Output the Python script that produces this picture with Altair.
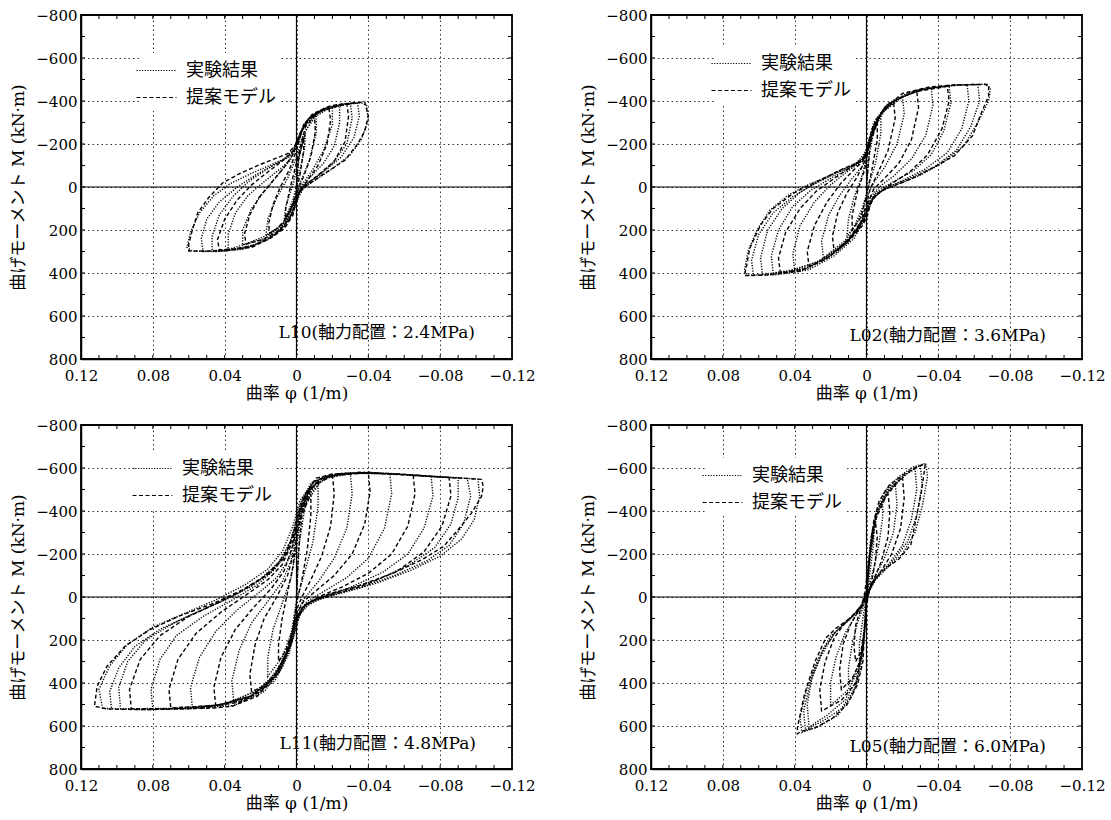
import altair as alt
import pandas as pd

# ---------------- data (curvature phi [1/m], moment M [kN*m]) ----------------
PHI_TICKS = [0.12, 0.08, 0.04, 0, -0.04, -0.08, -0.12]
M_TICKS = [-800, -600, -400, -200, 0, 200, 400, 600, 800]
PHI_MINOR = [0.11, 0.10, 0.09, 0.08, 0.07, 0.06, 0.05, 0.04, 0.03, 0.02, 0.01, 0.0,
             -0.01, -0.02, -0.03, -0.04, -0.05, -0.06, -0.07, -0.08, -0.09, -0.10, -0.11]
M_MINOR = [-700, -600, -500, -400, -300, -200, -100, 0, 100, 200, 300, 400, 500, 600, 700]
SERIES = ["実験結果", "提案モデル"]
PANEL_LABELS = ["L10(軸力配置：2.4MPa)", "L02(軸力配置：3.6MPa)",
                "L11(軸力配置：4.8MPa)", "L05(軸力配置：6.0MPa)"]

L10_EXP = [(0, 0), (-0.0015, -150), (-0.005, -250), (-0.0045, -180), (-0.001, -40), (0.002, 60), (0.007, 160),
           (0.006, 90), (0.002, -10), (-0.001, -120), (-0.005, -260), (-0.011, -335), (-0.011, -250), (-0.007, -120),
           (-0.002, -20), (0.001, 60), (0.008, 175), (0.017, 225), (0.016, 150), (0.011, 50), (0.005, -40), (0.0, -140),
           (-0.004, -250), (-0.010, -325), (-0.020, -375), (-0.020, -290), (-0.015, -170), (-0.009, -80), (-0.003, -10),
           (0.001, 70), (0.006, 160), (0.015, 220), (0.030, 270), (0.030, 200), (0.025, 100), (0.018, 20), (0.010, -60),
           (0.004, -120), (0.0, -190), (-0.004, -280), (-0.012, -345), (-0.022, -378), (-0.030, -390), (-0.031, -320),
           (-0.028, -200), (-0.020, -110), (-0.010, -40), (-0.003, 0), (0.0, 40), (0.003, 130), (0.010, 210),
           (0.022, 265), (0.035, 290), (0.047, 296), (0.047, 230), (0.043, 130), (0.035, 40), (0.026, -30),
           (0.016, -85), (0.008, -125), (0.002, -170), (-0.002, -250), (-0.007, -320), (-0.016, -362), (-0.028, -385),
           (-0.036, -392), (-0.039, -380), (-0.040, -310), (-0.036, -220), (-0.030, -150), (-0.020, -85), (-0.010, -30),
           (-0.004, 5), (-0.001, 50), (0.002, 120), (0.007, 185), (0.016, 245), (0.030, 290), (0.045, 300),
           (0.058, 298), (0.061, 280), (0.059, 210), (0.054, 120), (0.046, 40), (0.037, -15), (0.026, -60),
           (0.015, -100), (0.007, -130), (0.002, -160), (-0.003, -270), (-0.010, -340), (-0.025, -385),
           (-0.034, -392), (-0.035, -330), (-0.032, -230), (-0.025, -140), (-0.015, -70), (-0.006, -15),
           (-0.001, 30), (0.004, 140), (0.012, 220), (0.026, 280), (0.040, 298), (0.052, 300), (0.053, 240),
           (0.050, 150), (0.043, 70), (0.033, 0), (0.022, -60), (0.012, -105), (0.004, -140), (0.0, -175),
           (-0.003, -260), (-0.008, -330), (-0.015, -365), (-0.024, -382), (-0.024, -300), (-0.021, -190),
           (-0.015, -110), (-0.007, -40), (-0.002, 10), (0.001, 70), (0.006, 160), (0.016, 235), (0.038, 290),
           (0.038, 220), (0.034, 120), (0.027, 40), (0.018, -25), (0.009, -85), (0.003, -130)]
L10_MODEL = [(0, 0), (-0.001, -130), (-0.004, -230), (-0.004, -170), (-0.002, -60), (0.0, 20), (0.003, 100),
             (0.006, 150), (0.006, 100), (0.004, 20), (0.001, -80), (-0.002, -180), (-0.005, -280), (-0.010, -330),
             (-0.0105, -260), (-0.008, -140), (-0.004, -50), (-0.001, 10), (0.002, 80), (0.006, 150), (0.011, 195),
             (0.015, 215), (0.0155, 170), (0.013, 80), (0.009, 0), (0.004, -80), (0.0, -170), (-0.003, -260),
             (-0.007, -320), (-0.012, -350), (-0.018, -370), (-0.019, -310), (-0.017, -200), (-0.012, -100),
             (-0.006, -30), (-0.002, 20), (0.0, 70), (0.004, 150), (0.010, 205), (0.019, 245), (0.028, 265),
             (0.029, 220), (0.026, 130), (0.021, 50), (0.014, -20), (0.007, -90), (0.002, -150), (-0.001, -220),
             (-0.004, -290), (-0.009, -340), (-0.018, -375), (-0.023, -384), (-0.028, -388), (-0.029, -330),
             (-0.027, -210), (-0.021, -120), (-0.012, -55), (-0.005, -10), (-0.001, 30), (0.001, 90), (0.005, 170),
             (0.013, 230), (0.025, 275), (0.035, 288), (0.043, 292), (0.044, 245), (0.040, 150), (0.033, 60),
             (0.025, -10), (0.016, -70), (0.008, -120), (0.002, -165), (-0.001, -220), (-0.005, -300), (-0.012, -350),
             (-0.022, -380), (-0.030, -390), (-0.038, -395), (-0.040, -330), (-0.038, -260), (-0.034, -200),
             (-0.027, -125), (-0.016, -65), (-0.008, -20), (-0.003, 10), (0.0, 56), (0.002, 131), (0.0065, 191),
             (0.014, 236), (0.025, 281), (0.040, 296), (0.053, 298), (0.060, 298), (0.060, 266), (0.058, 200),
             (0.055, 120), (0.049, 50), (0.041, -20), (0.031, -65), (0.021, -102), (0.012, -132), (0.005, -155),
             (0.001, -190), (-0.002, -250), (-0.006, -310), (-0.014, -355), (-0.025, -380), (-0.035, -392)]

L02_EXP = [(0, 0), (-0.001, -120), (-0.004, -260), (-0.008, -330), (-0.008, -250), (-0.005, -110), (-0.001, 0),
           (0.002, 90), (0.006, 170), (0.011, 230), (0.010, 150), (0.007, 50), (0.003, -40), (0.0, -130),
           (-0.004, -280), (-0.010, -370), (-0.020, -420), (-0.021, -340), (-0.017, -200), (-0.010, -90),
           (-0.004, -20), (0.0, 50), (0.004, 150), (0.012, 250), (0.024, 330), (0.025, 250), (0.021, 130),
           (0.015, 40), (0.008, -40), (0.002, -100), (-0.001, -180), (-0.006, -320), (-0.015, -405), (-0.030, -450),
           (-0.036, -462), (-0.037, -380), (-0.033, -240), (-0.025, -130), (-0.015, -50), (-0.007, 0), (-0.002, 50),
           (0.001, 140), (0.007, 220), (0.017, 300), (0.030, 365), (0.040, 390), (0.041, 310), (0.037, 180),
           (0.029, 70), (0.020, -10), (0.011, -70), (0.004, -110), (0.0, -150), (-0.003, -260), (-0.010, -360),
           (-0.022, -435), (-0.040, -468), (-0.056, -475), (-0.057, -400), (-0.053, -270), (-0.045, -160),
           (-0.033, -85), (-0.020, -30), (-0.010, 10), (-0.004, 50), (-0.001, 110), (0.004, 190), (0.014, 280),
           (0.028, 350), (0.045, 395), (0.058, 405), (0.059, 330), (0.055, 200), (0.047, 100), (0.037, 25),
           (0.026, -30), (0.015, -75), (0.006, -110), (0.001, -150), (-0.003, -260), (-0.012, -380), (-0.028, -450),
           (-0.048, -474), (-0.066, -478), (-0.069, -460), (-0.068, -400), (-0.062, -300), (-0.054, -190),
           (-0.042, -110), (-0.030, -55), (-0.018, -15), (-0.008, 20), (-0.002, 70), (0.001, 150), (0.007, 240),
           (0.018, 320), (0.032, 385), (0.050, 408), (0.066, 410), (0.068, 390), (0.066, 300), (0.061, 200),
           (0.054, 110), (0.044, 40), (0.034, -5), (0.024, -40), (0.014, -80), (0.006, -105), (0.0, -170),
           (-0.004, -300), (-0.012, -390), (-0.030, -455), (-0.050, -474), (-0.062, -476), (-0.063, -400),
           (-0.058, -280), (-0.050, -170), (-0.038, -95), (-0.024, -40), (-0.012, 0), (-0.004, 40), (0.0, 110),
           (0.005, 200), (0.016, 300), (0.033, 380), (0.052, 405), (0.063, 410), (0.064, 340), (0.060, 220),
           (0.052, 120), (0.041, 45), (0.030, -10), (0.019, -55), (0.009, -95), (0.002, -130), (-0.002, -230),
           (-0.008, -340), (-0.020, -420), (-0.032, -455), (-0.046, -470), (-0.047, -390), (-0.043, -260),
           (-0.036, -150), (-0.026, -75), (-0.015, -25), (-0.006, 20), (-0.001, 80), (0.003, 170), (0.012, 260),
           (0.025, 340), (0.040, 385), (0.052, 400), (0.053, 320), (0.049, 200), (0.041, 90), (0.031, 15),
           (0.020, -40), (0.010, -85), (0.003, -120)]
L02_MODEL = [(0, 0), (-0.002, -200), (-0.006, -300), (-0.006, -220), (-0.003, -80), (0.0, 40), (0.003, 140),
             (0.008, 200), (0.008, 130), (0.005, 20), (0.001, -80), (-0.002, -220), (-0.008, -340), (-0.015, -400),
             (-0.016, -320), (-0.012, -170), (-0.006, -60), (-0.002, 10), (0.0, 80), (0.004, 180), (0.011, 260),
             (0.018, 300), (0.019, 230), (0.016, 120), (0.011, 30), (0.005, -50), (0.001, -120), (-0.002, -230),
             (-0.008, -340), (-0.017, -410), (-0.028, -445), (-0.029, -370), (-0.025, -220), (-0.018, -110),
             (-0.010, -40), (-0.004, 10), (-0.001, 70), (0.002, 150), (0.010, 240), (0.020, 320), (0.032, 370),
             (0.033, 300), (0.029, 180), (0.022, 70), (0.014, -20), (0.007, -80), (0.002, -120), (-0.001, -200),
             (-0.005, -310), (-0.012, -385), (-0.025, -440), (-0.045, -468), (-0.046, -400), (-0.042, -270),
             (-0.034, -150), (-0.024, -70), (-0.014, -15), (-0.006, 30), (-0.002, 80), (0.001, 150), (0.008, 230),
             (0.020, 320), (0.034, 380), (0.048, 400), (0.049, 330), (0.045, 210), (0.037, 100), (0.028, 20),
             (0.018, -40), (0.009, -90), (0.003, -120), (0.0, -160), (-0.003, -270), (-0.010, -365), (-0.020, -435),
             (-0.035, -465), (-0.050, -476), (-0.068, -477), (-0.068, -423), (-0.064, -346), (-0.059, -238),
             (-0.049, -146), (-0.036, -85), (-0.025, -38), (-0.016, -8), (-0.009, 15), (-0.003, 54), (-0.0006, 131),
             (0.0022, 180), (0.0096, 250), (0.0225, 335), (0.037, 392), (0.056, 410), (0.068, 412), (0.067, 377),
             (0.065, 285), (0.059, 177), (0.052, 100), (0.041, 31), (0.032, -8), (0.0225, -46), (0.013, -85),
             (0.006, -108), (0.0004, -140), (-0.002, -240)]

L11_EXP = [(0, 0), (-0.0015, -250), (-0.005, -430), (-0.012, -520), (-0.012, -420), (-0.009, -250), (-0.004, -100),
           (0.0, 20), (0.003, 170), (0.008, 280), (0.016, 370), (0.016, 280), (0.013, 150), (0.008, 30), (0.003, -90),
           (0.0, -230), (-0.003, -400), (-0.010, -520), (-0.020, -565), (-0.030, -575), (-0.031, -480),
           (-0.028, -320), (-0.021, -180), (-0.012, -70), (-0.004, 10), (0.0, 80), (0.004, 230), (0.012, 360),
           (0.023, 440), (0.035, 480), (0.036, 390), (0.032, 250), (0.025, 120), (0.016, 20), (0.008, -70),
           (0.003, -170), (-0.001, -330), (-0.006, -470), (-0.016, -555), (-0.035, -578), (-0.052, -574),
           (-0.053, -480), (-0.049, -320), (-0.040, -180), (-0.028, -90), (-0.015, -25), (-0.006, 20), (-0.001, 80),
           (0.003, 220), (0.011, 360), (0.025, 460), (0.042, 500), (0.058, 515), (0.059, 420), (0.054, 280),
           (0.045, 160), (0.033, 60), (0.021, -20), (0.011, -90), (0.004, -180), (0.0, -320), (-0.004, -460),
           (-0.012, -545), (-0.030, -578), (-0.055, -572), (-0.075, -560), (-0.076, -470), (-0.071, -320),
           (-0.062, -200), (-0.048, -115), (-0.030, -45), (-0.016, -5), (-0.006, 30), (-0.001, 90), (0.003, 220),
           (0.010, 350), (0.022, 450), (0.042, 505), (0.065, 518), (0.080, 522), (0.081, 430), (0.076, 290),
           (0.067, 180), (0.052, 90), (0.036, 15), (0.022, -55), (0.012, -130), (0.005, -210), (0.001, -330),
           (-0.003, -450), (-0.010, -540), (-0.025, -575), (-0.050, -576), (-0.080, -558), (-0.095, -552),
           (-0.097, -470), (-0.093, -340), (-0.085, -240), (-0.073, -170), (-0.056, -105), (-0.036, -45),
           (-0.020, -10), (-0.008, 25), (-0.002, 80), (0.002, 200), (0.008, 330), (0.018, 440), (0.035, 505),
           (0.060, 520), (0.085, 524), (0.103, 520), (0.104, 440), (0.099, 330), (0.090, 230), (0.076, 150),
           (0.058, 80), (0.040, 15), (0.025, -50), (0.014, -120), (0.006, -200), (0.001, -320), (-0.002, -430),
           (-0.008, -530), (-0.020, -570), (-0.045, -578), (-0.070, -565), (-0.090, -555), (-0.101, -548),
           (-0.102, -470), (-0.099, -360), (-0.092, -270), (-0.080, -190), (-0.064, -125), (-0.045, -65),
           (-0.028, -25), (-0.013, 10), (-0.004, 50), (0.0, 120), (0.004, 260), (0.012, 390), (0.028, 480),
           (0.055, 518), (0.085, 524), (0.108, 518), (0.110, 430), (0.104, 320), (0.094, 220), (0.080, 140),
           (0.062, 75), (0.044, 10), (0.028, -60), (0.016, -130), (0.008, -210), (0.002, -330), (-0.002, -450),
           (-0.010, -540), (-0.030, -576), (-0.060, -570), (-0.090, -553), (-0.090, -460), (-0.086, -340),
           (-0.077, -230), (-0.063, -150), (-0.045, -80), (-0.026, -30), (-0.012, 5), (-0.003, 50), (0.001, 140),
           (0.007, 290), (0.018, 420), (0.040, 500), (0.070, 518), (0.098, 520), (0.099, 420), (0.094, 300),
           (0.084, 200), (0.068, 120), (0.050, 50), (0.033, -15), (0.020, -85), (0.010, -160), (0.004, -250)]
L11_MODEL = [(0, 0), (-0.001, -200), (-0.003, -380), (-0.008, -480), (-0.008, -380), (-0.006, -220), (-0.003, -80),
             (0.0, 30), (0.002, 150), (0.006, 250), (0.010, 300), (0.010, 220), (0.008, 100), (0.005, -20),
             (0.002, -140), (0.0, -280), (-0.003, -400), (-0.008, -500), (-0.014, -550), (-0.020, -570),
             (-0.021, -480), (-0.019, -330), (-0.014, -190), (-0.008, -80), (-0.003, 0), (0.0, 60), (0.003, 200),
             (0.009, 330), (0.017, 410), (0.025, 440), (0.026, 360), (0.023, 220), (0.018, 100), (0.011, 0),
             (0.005, -100), (0.001, -220), (-0.002, -370), (-0.006, -480), (-0.013, -550), (-0.025, -575),
             (-0.040, -578), (-0.041, -490), (-0.038, -340), (-0.031, -200), (-0.021, -100), (-0.011, -30),
             (-0.004, 20), (0.0, 80), (0.003, 210), (0.010, 340), (0.020, 440), (0.032, 490), (0.045, 505),
             (0.046, 420), (0.042, 280), (0.034, 150), (0.024, 50), (0.014, -40), (0.007, -120), (0.002, -240),
             (-0.002, -400), (-0.008, -510), (-0.020, -565), (-0.040, -578), (-0.065, -565), (-0.066, -480),
             (-0.062, -330), (-0.053, -200), (-0.040, -110), (-0.025, -45), (-0.012, 0), (-0.004, 40), (0.0, 100),
             (0.004, 230), (0.012, 370), (0.025, 460), (0.045, 505), (0.070, 516), (0.071, 430), (0.066, 290),
             (0.056, 170), (0.042, 70), (0.028, -10), (0.016, -80), (0.008, -150), (0.002, -260), (-0.001, -380),
             (-0.006, -490), (-0.015, -560), (-0.035, -580), (-0.060, -570), (-0.085, -555), (-0.086, -470),
             (-0.081, -330), (-0.071, -210), (-0.056, -120), (-0.038, -55), (-0.022, -15), (-0.010, 15),
             (-0.003, 50), (0.001, 130), (0.005, 250), (0.013, 380), (0.027, 470), (0.050, 515), (0.075, 520),
             (0.092, 520), (0.093, 430), (0.087, 290), (0.076, 180), (0.060, 90), (0.042, 20), (0.027, -45),
             (0.015, -110), (0.007, -180), (0.002, -280), (-0.001, -390), (-0.005, -480), (-0.011, -553),
             (-0.020, -572), (-0.040, -580), (-0.070, -563), (-0.103, -547), (-0.104, -515), (-0.103, -468),
             (-0.0975, -391), (-0.090, -313), (-0.082, -236), (-0.070, -174), (-0.054, -112), (-0.034, -50),
             (-0.020, -19), (-0.010, 12), (-0.004, 43), (0.001, 105), (0.004, 229), (0.010, 353), (0.0219, 462),
             (0.0358, 508), (0.0458, 516), (0.0657, 521), (0.0856, 524), (0.1055, 521), (0.1125, 508), (0.111, 415),
             (0.1055, 322), (0.0955, 229), (0.0816, 152), (0.0657, 90), (0.0458, 28), (0.0299, -34), (0.0179, -96),
             (0.010, -158), (0.004, -236), (0.001, -313)]

L05_EXP = [(0, 0), (-0.001, -120), (-0.002, -250), (-0.004, -330), (-0.004, -250), (-0.002, -120), (0.0, 0),
           (0.001, 120), (0.002, 230), (0.004, 300), (0.004, 220), (0.002, 100), (0.0, 0), (-0.001, -150),
           (-0.003, -300), (-0.006, -400), (-0.009, -450), (-0.009, -370), (-0.007, -250), (-0.004, -130),
           (-0.001, -40), (0.0, 30), (0.001, 150), (0.003, 280), (0.007, 370), (0.010, 410), (0.010, 330),
           (0.008, 220), (0.005, 120), (0.002, 50), (0.0, -20), (-0.002, -200), (-0.005, -370), (-0.010, -470),
           (-0.016, -530), (-0.017, -430), (-0.015, -300), (-0.010, -180), (-0.005, -100), (-0.002, -40), (0.0, 20),
           (0.001, 150), (0.004, 330), (0.010, 430), (0.018, 490), (0.020, 500), (0.020, 400), (0.017, 280),
           (0.012, 170), (0.007, 100), (0.003, 50), (0.0, 0), (-0.002, -180), (-0.006, -400), (-0.012, -500),
           (-0.020, -560), (-0.027, -600), (-0.028, -500), (-0.025, -360), (-0.020, -240), (-0.013, -160),
           (-0.006, -100), (-0.002, -40), (0.0, 20), (0.002, 200), (0.005, 380), (0.012, 480), (0.022, 550),
           (0.032, 605), (0.033, 500), (0.030, 360), (0.024, 240), (0.016, 150), (0.008, 90), (0.002, 30),
           (0.0, -30), (-0.002, -230), (-0.005, -380), (-0.010, -490), (-0.018, -560), (-0.026, -605),
           (-0.033, -622), (-0.034, -560), (-0.031, -420), (-0.027, -300), (-0.020, -200), (-0.012, -140),
           (-0.005, -80), (0.0, 0), (0.001, 160), (0.003, 330), (0.008, 460), (0.016, 550), (0.026, 600),
           (0.036, 630), (0.037, 560), (0.033, 420), (0.027, 290), (0.020, 180), (0.010, 110), (0.003, 50),
           (0.0, 0), (-0.002, -200), (-0.006, -390), (-0.012, -490), (-0.022, -570), (-0.030, -612),
           (-0.031, -520), (-0.028, -380), (-0.023, -260), (-0.016, -180), (-0.008, -115), (-0.002, -50),
           (0.0, 10), (0.002, 230), (0.006, 420), (0.014, 520), (0.024, 575), (0.034, 618), (0.035, 530),
           (0.031, 390), (0.025, 270), (0.018, 170), (0.009, 100), (0.002, 40)]
L05_MODEL = [(0, 0), (-0.001, -150), (-0.003, -290), (-0.005, -350), (-0.006, -280), (-0.005, -170), (-0.003, -80),
             (-0.001, -20), (0.0, 30), (0.001, 150), (0.003, 250), (0.006, 300), (0.007, 230), (0.006, 130),
             (0.003, 50), (0.001, -20), (-0.001, -140), (-0.003, -300), (-0.006, -410), (-0.012, -480),
             (-0.013, -400), (-0.012, -280), (-0.008, -160), (-0.004, -80), (-0.001, -20), (0.0, 40), (0.001, 160),
             (0.003, 290), (0.008, 380), (0.014, 430), (0.015, 340), (0.013, 220), (0.009, 130), (0.005, 70),
             (0.002, 20), (0.0, -30), (-0.002, -200), (-0.005, -360), (-0.011, -470), (-0.020, -560),
             (-0.021, -460), (-0.019, -320), (-0.014, -200), (-0.008, -120), (-0.003, -60), (-0.001, -10), (0.0, 50),
             (0.002, 250), (0.006, 400), (0.014, 480), (0.025, 530), (0.026, 430), (0.023, 300), (0.018, 190),
             (0.012, 120), (0.006, 70), (0.002, 30), (0.0, -20), (-0.002, -212), (-0.004, -352), (-0.007, -445),
             (-0.0128, -522), (-0.0207, -569), (-0.0267, -600), (-0.0326, -619), (-0.0326, -608), (-0.0306, -491),
             (-0.0277, -367), (-0.0247, -243), (-0.0178, -174), (-0.0109, -135), (-0.005, -88), (-0.002, -42),
             (0.0, 0), (0.001, 144), (0.002, 299), (0.005, 408), (0.0109, 501), (0.0188, 563), (0.0286, 609),
             (0.0365, 625), (0.0385, 637), (0.0385, 609), (0.0346, 454), (0.0286, 299), (0.0227, 191),
             (0.0168, 144), (0.0089, 98), (0.003, 51), (0.0, 0)]

# ---------------- layout ----------------
W, H = 431, 344
SERIF_JP = "DejaVu Serif, Noto Sans CJK JP"
JP = "Noto Sans CJK JP"

X_LABEL = "datum.value == 0 ? '0' : (datum.value < 0 ? '\u2212' : '') + format(abs(datum.value), '.2f')"
Y_LABEL = "datum.value == 0 ? '0' : (datum.value < 0 ? '\u2212' : '') + format(abs(datum.value), 'd')"

XS = alt.Scale(domain=[-0.12, 0.12], reverse=True, nice=False, zero=False)
YS = alt.Scale(domain=[-800, 800], reverse=True, nice=False, zero=False)


def frame(exp, model):
    rows = []
    for name, pts in ((SERIES[0], exp), (SERIES[1], model)):
        for i, (p, m) in enumerate(pts):
            rows.append({"phi": p, "M": m, "series": name, "idx": i})
    return pd.DataFrame(rows)


def panel(exp, model, label, lx, ly, tx, ty):
    df = frame(exp, model)
    x_axis = alt.Axis(values=PHI_TICKS, title="曲率  φ  (1/m)", labelExpr=X_LABEL,
                      labelFlush=False, labelOverlap=False, labelPadding=9, titlePadding=2)
    y_axis = alt.Axis(values=M_TICKS, title="曲げモーメント  M  (kN·m)", labelExpr=Y_LABEL,
                      labelFlush=False, labelOverlap=False, labelPadding=4, titlePadding=8)

    lines = alt.Chart(df).mark_line(color="black", strokeWidth=1.4).encode(
        x=alt.X("phi:Q", scale=XS, axis=x_axis),
        y=alt.Y("M:Q", scale=YS, axis=y_axis),
        order="idx:Q",
        strokeDash=alt.StrokeDash(
            "series:N",
            scale=alt.Scale(domain=SERIES, range=[[1.2, 1.5], [4, 2.5]]),
            legend=alt.Legend(orient="none", legendX=lx, legendY=ly, title=None,
                              symbolType="M-1.6,0H1.6", symbolSize=625, symbolStrokeWidth=1.2,
                              symbolStrokeColor="black", labelFont=JP, labelFontSize=18,
                              labelColor="black", labelOffset=16, rowPadding=4,
                              fillColor="white", padding=4),
        ),
    )
    vrule = alt.Chart(pd.DataFrame({"phi": [0]})).mark_rule(color="black", strokeWidth=1.2).encode(
        x=alt.X("phi:Q", scale=XS))
    hrule = alt.Chart(pd.DataFrame({"M": [0]})).mark_rule(color="black", strokeWidth=1.2).encode(
        y=alt.Y("M:Q", scale=YS))
    xt = pd.DataFrame({"phi": PHI_MINOR})
    yt = pd.DataFrame({"M": M_MINOR})
    tick_b = alt.Chart(xt).mark_rule(color="black", strokeWidth=1).encode(
        x=alt.X("phi:Q", scale=XS), y=alt.value(H - 4), y2=alt.value(H))
    tick_t = alt.Chart(xt).mark_rule(color="black", strokeWidth=1).encode(
        x=alt.X("phi:Q", scale=XS), y=alt.value(0), y2=alt.value(4))
    tick_l = alt.Chart(yt).mark_rule(color="black", strokeWidth=1).encode(
        y=alt.Y("M:Q", scale=YS), x=alt.value(0), x2=alt.value(4))
    tick_r = alt.Chart(yt).mark_rule(color="black", strokeWidth=1).encode(
        y=alt.Y("M:Q", scale=YS), x=alt.value(W - 4), x2=alt.value(W))
    text = alt.Chart(pd.DataFrame({"t": [label]})).mark_text(
        align="right", baseline="middle", font=SERIF_JP, fontSize=17, color="black").encode(
        text="t:N", x=alt.value(W - tx), y=alt.value(H - ty))
    return alt.layer(lines, vrule, hrule, tick_b, tick_t, tick_l, tick_r, text).properties(width=W, height=H)


p1 = panel(L10_EXP, L10_MODEL, PANEL_LABELS[0], 58, 38, 37, 26)
p2 = panel(L02_EXP, L02_MODEL, PANEL_LABELS[1], 63, 31, 36, 23)
p3 = panel(L11_EXP, L11_MODEL, PANEL_LABELS[2], 54, 26, 36, 25)
p4 = panel(L05_EXP, L05_MODEL, PANEL_LABELS[3], 54, 33, 36, 22)

chart = alt.concat(p1, p2, p3, p4, columns=2, spacing={"row": 66, "column": 139},
                   bounds="flush").resolve_scale(
    strokeDash="independent"
).properties(
    padding={"left": 8, "top": 7, "right": 5, "bottom": 5},
    background="white",
).configure_axis(
    domainColor="black", domainWidth=1.5, ticks=False,
    grid=True, gridColor="black", gridDash=[1.5, 3], gridWidth=0.9, gridOpacity=0.9,
    labelFont="DejaVu Serif", labelFontSize=15, labelColor="black",
    titleFont=SERIF_JP, titleFontSize=17, titleFontWeight="normal", titleColor="black",
).configure_view(stroke="black", strokeWidth=1.8)

chart.save("out.html", embed_options={"renderer": "svg", "actions": False})
